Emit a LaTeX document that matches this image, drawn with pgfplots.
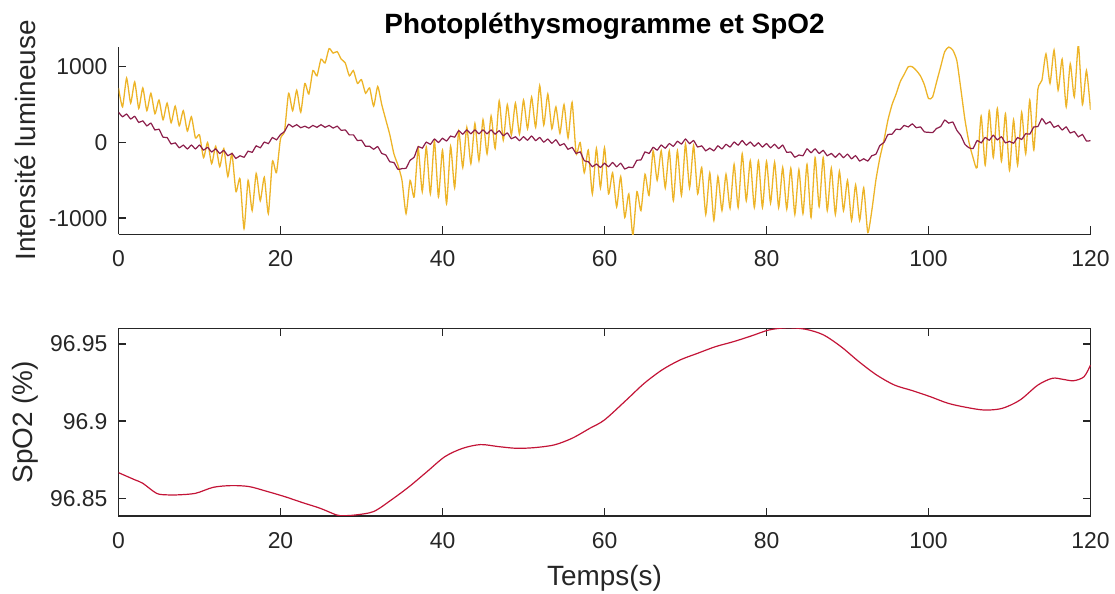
\documentclass[border=0pt]{standalone}
\usepackage{fontspec}
\setmainfont{Liberation Sans}
\usepackage{pgfplots}
\usepackage{pgfplotstable}
\pgfplotsset{compat=1.18}
\definecolor{myyellow}{RGB}{237,180,40}
\definecolor{mymaroon}{RGB}{140,30,75}
\definecolor{myred}{RGB}{195,20,55}
\definecolor{axgray}{RGB}{38,38,38}

\pgfplotstableread{
t yel mar
0 720 400
0.5 470 340
1 850 375
1.5 520 310
2 800 345
2.5 450 265
3 720 285
3.5 420 220
4 650 255
4.5 380 165
5 560 175
5.5 300 70
6 520 65
6.5 260 -20
7 480 -5
7.5 220 -70
8 420 -35
8.5 150 -85
9 340 -35
9.5 60 -85
10 100 -35
10.5 -200 -100
11 0 -65
11.5 -280 -125
12 -50 -85
12.5 -320 -145
13 -80 -105
13.5 -450 -175
14 -150 -145
14.5 -650 -210
15 -480 -175
15.5 -1140 -195
16 -500 -115
16.5 -900 -130
17 -410 -45
17.5 -770 -70
18 -460 5
18.5 -940 -15
19 -250 65
19.5 -400 35
20 50 105
20.5 150 145
21 650 240
21.5 420 205
22 690 235
22.5 400 195
23 780 215
23.5 640 190
24 950 225
24.5 880 200
25 1100 235
25.5 1050 200
26 1240 225
26.5 1180 190
27 1200 215
27.5 1100 160
28 1050 165
28.5 880 100
29 950 100
29.5 780 25
30 830 30
30.5 650 -50
31 720 -50
31.5 480 -90
32 740 -55
32.5 500 -145
33 300 -165
33.5 100 -255
34 -150 -265
34.5 -300 -355
35 -500 -345
35.5 -940 -340
36 -500 -235
36.5 -720 -195
37 -80 -55
37.5 -650 -75
38 -60 5
38.5 -680 -25
39 20 45
39.5 -720 0
40 -100 55
40.5 -810 20
41 -50 85
41.5 -600 70
42 150 155
42.5 -330 110
43 200 165
43.5 -280 115
44 250 165
44.5 -240 115
45 300 165
45.5 -150 115
46 350 165
46.5 -80 110
47 550 155
47.5 30 90
48 500 125
48.5 100 50
49 520 75
49.5 110 25
50 560 75
50.5 180 30
51 600 85
51.5 200 25
52 750 65
52.5 230 5
53 640 45
53.5 180 -10
54 470 35
54.5 120 -40
55 500 -15
55.5 60 -90
56 530 -65
56.5 -150 -145
57 0 -125
57.5 -400 -240
58 -100 -255
58.5 -680 -320
59 -80 -285
59.5 -600 -330
60 -70 -275
60.5 -680 -320
61 -400 -265
61.5 -850 -320
62 -450 -275
62.5 -990 -350
63 -680 -325
63.5 -1230 -330
64 -650 -235
64.5 -900 -230
65 -420 -125
65.5 -700 -145
66 -110 -65
66.5 -500 -100
67 -110 -35
67.5 -600 -75
68 -110 -15
68.5 -770 -50
69 -110 15
69.5 -700 -20
70 -20 45
70.5 -600 -15
71 -40 25
71.5 -680 -60
72 -330 -45
72.5 -950 -110
73 -400 -75
73.5 -1030 -110
74 -450 -45
74.5 -900 -85
75 -420 -25
75.5 -870 -60
76 -290 5
76.5 -860 -35
77 -150 25
77.5 -770 -35
78 -240 5
78.5 -860 -50
79 -240 -5
79.5 -860 -60
80 -250 -15
80.5 -800 -70
81 -260 -25
81.5 -860 -80
82 -330 -35
82.5 -880 -130
83 -340 -125
83.5 -950 -195
84 -360 -165
84.5 -940 -175
85 -290 -85
85.5 -990 -135
86 -200 -85
86.5 -850 -145
87 -200 -105
87.5 -900 -175
88 -340 -145
88.5 -950 -195
89 -380 -145
89.5 -900 -200
90 -500 -155
90.5 -1030 -215
91 -560 -175
91.5 -1030 -245
92 -600 -215
92.5 -1190 -245
93 -900 -175
93.5 -500 -155
94 -200 -40
94.5 30 0
95 300 105
95.5 500 110
96 640 175
96.5 800 170
97 900 225
97.5 1000 205
98 1000 245
98.5 950 195
99 880 205
99.5 760 140
100 580 135
100.5 600 130
101 800 185
101.5 1000 210
102 1200 295
102.5 1260 255
103 1220 270
103.5 1080 160
104 700 90
104.5 300 -25
105 0 -70
105.5 -200 -80
106 -330 25
106.5 350 -5
107 -300 65
107.5 420 30
108 -200 95
108.5 450 35
109 -250 75
109.5 380 -5
110 -370 15
110.5 300 -10
111 -300 65
111.5 400 40
112 -150 115
112.5 560 110
113 -100 205
113.5 700 210
114 820 315
114.5 1170 245
115 780 275
115.5 1220 200
116 690 225
116.5 1100 165
117 470 205
117.5 1040 125
118 600 145
118.5 1290 75
119 500 105
119.5 950 20
120 430 25
}\ppg

\pgfplotstableread{
t s
0 96.8666
2 96.8620
3 96.8597
4.7 96.8532
6 96.8522
7.3 96.8522
9.5 96.8532
11.7 96.8571
13.9 96.8582
16.1 96.8576
18.3 96.8545
20.5 96.8511
22.7 96.8472
24.9 96.8435
26.9 96.8392
27.8 96.8387
29.3 96.8392
31.5 96.8414
33.7 96.8490
35.9 96.8576
38.1 96.8673
40.3 96.8770
42.5 96.8824
44.7 96.8848
46.9 96.8835
49.1 96.8824
51.3 96.8828
53.8 96.8846
56.0 96.8889
58.2 96.8954
60.0 96.9008
62.7 96.9137
64.9 96.9245
67.1 96.9332
69.3 96.9396
71.5 96.9440
73.7 96.9483
75.9 96.9515
78.1 96.9552
80.3 96.9591
82.5 96.9605
84.8 96.9596
87.0 96.9560
89.2 96.9483
91.4 96.9386
93.6 96.9299
95.8 96.9234
98.0 96.9198
100.2 96.9159
102.4 96.9116
104.6 96.9090
106.9 96.9072
109.1 96.9083
111.3 96.9137
113.5 96.9234
115.3 96.9278
116.6 96.9271
117.9 96.9262
119.2 96.9288
120 96.9364
}\spo

\begin{document}
\begin{tikzpicture}
\path[use as bounding box] (0,0) rectangle (557.5bp,297bp);
\pgfplotsset{
  every axis/.append style={
    scale only axis, width=486bp,
    xmin=0, xmax=120,
    xtick={0,20,40,60,80,100,120}, xticklabels={0,20,40,60,80,100,120},
    major tick length=4bp,
    axis line style={axgray, line width=0.7bp},
    tick style={axgray, line width=0.7bp},
    tick label style={font=\fontsize{11.5}{13}\selectfont, text=axgray},
    label style={font=\fontsize{14}{16}\selectfont, text=axgray},
    xticklabel style={yshift=-4.5bp},
    yticklabel style={xshift=-2bp},
  }
}
\begin{axis}[
  at={(59.25bp,179.85bp)}, anchor=south west, height=93.8bp,
  axis x line*=bottom, axis y line*=left,
  tick align=inside,
  ymin=-1213, ymax=1265,
  ytick={-1000,0,1000}, yticklabels={-1000,0,1000},
  title={Photopléthysmogramme et SpO2},
  title style={at={(axis description cs:0.5,1)}, anchor=base, yshift=0.7bp,
    font=\fontsize{14}{16}\selectfont\bfseries, text=black},
  ylabel={Intensité lumineuse},
  ylabel style={at={(axis description cs:-0.096,0.5)}, anchor=center},
]
\addplot[myyellow, line width=0.65bp, smooth, tension=0.35] table[x=t, y=yel] {\ppg};
\addplot[mymaroon, line width=0.6bp, smooth, tension=0.3] table[x=t, y=mar] {\ppg};
\end{axis}

\begin{axis}[
  at={(59.25bp,39bp)}, anchor=south west, height=93.85bp,
  tick align=inside,
  ymin=96.8385, ymax=96.9602,
  ytick={96.85,96.9,96.95}, yticklabels={96.85,96.9,96.95},
  xlabel={Temps(s)},
  xlabel style={at={(axis description cs:0.5,-0.33)}, anchor=center},
  ylabel={SpO2 (\%)},
  ylabel style={at={(axis description cs:-0.096,0.5)}, anchor=center},
]
\addplot[myred, line width=0.6bp, smooth, tension=0.5] table[x=t, y=s] {\spo};
\end{axis}
\end{tikzpicture}
\end{document}
